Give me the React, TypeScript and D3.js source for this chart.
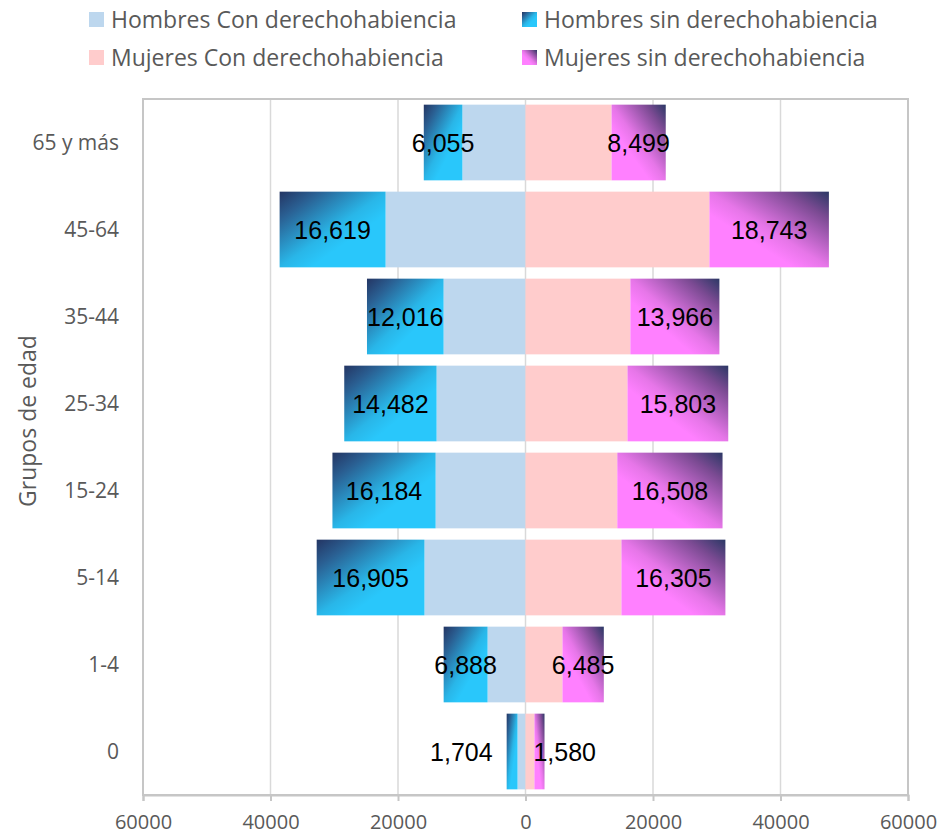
import * as React from "react";
import * as d3 from "d3";

const categories = ["65 y más", "45-64", "35-44", "25-34", "15-24", "5-14", "1-4", "0"];
const hombresCon = [9900, 21950, 12850, 13950, 14100, 15850, 5950, 1250];
const hombresSin = [6055, 16619, 12016, 14482, 16184, 16905, 6888, 1704];
const mujeresCon = [13500, 28850, 16450, 16000, 14400, 15050, 5800, 1400];
const mujeresSin = [8499, 18743, 13966, 15803, 16508, 16305, 6485, 1580];
const xTicks = [-60000, -40000, -20000, 0, 20000, 40000, 60000];
const legendItems = [
  { label: "Hombres Con derechohabiencia", fill: "#BDD7EE" },
  { label: "Hombres sin derechohabiencia", fill: "url(#gradH)" },
  { label: "Mujeres Con derechohabiencia", fill: "#FFCCCC" },
  { label: "Mujeres sin derechohabiencia", fill: "url(#gradM)" },
];

const W = 940,
  H = 838;

export default function App() {
  const ref = React.useRef<SVGSVGElement>(null);

  React.useEffect(() => {
    if (!ref.current) return;
    document.body.style.margin = "0";
    const svg = d3.select(ref.current);
    svg.selectAll("*").remove();

    const left = 143,
      right = 908,
      top = 99,
      bottom = 795;

    const x = d3.scaleLinear().domain([-60000, 60000]).range([left, right]);
    const y = d3
      .scaleBand<string>()
      .domain(categories)
      .range([top, bottom])
      .paddingInner(0.13)
      .paddingOuter(0.065);

    const defs = svg.append("defs");
    const gH = defs
      .append("linearGradient")
      .attr("id", "gradH")
      .attr("x1", 0)
      .attr("y1", 0)
      .attr("x2", 1)
      .attr("y2", 1);
    gH.append("stop").attr("offset", 0).attr("stop-color", "#243563");
    gH.append("stop").attr("offset", 0.18).attr("stop-color", "#2A5F92");
    gH.append("stop").attr("offset", 0.5).attr("stop-color", "#29B6E8");
    gH.append("stop").attr("offset", 0.65).attr("stop-color", "#29C7FB");
    gH.append("stop").attr("offset", 1).attr("stop-color", "#29C7FB");

    const gM = defs
      .append("linearGradient")
      .attr("id", "gradM")
      .attr("x1", 1)
      .attr("y1", 0)
      .attr("x2", 0)
      .attr("y2", 1);
    gM.append("stop").attr("offset", 0).attr("stop-color", "#2B3865");
    gM.append("stop").attr("offset", 0.18).attr("stop-color", "#7A4A92");
    gM.append("stop").attr("offset", 0.5).attr("stop-color", "#E676E8");
    gM.append("stop").attr("offset", 0.65).attr("stop-color", "#FF80FF");
    gM.append("stop").attr("offset", 1).attr("stop-color", "#FF80FF");

    // grid
    svg
      .append("g")
      .selectAll("line")
      .data(xTicks)
      .enter()
      .append("line")
      .attr("x1", d => x(d))
      .attr("x2", d => x(d))
      .attr("y1", top)
      .attr("y2", bottom)
      .attr("stroke", "#D9D9D9")
      .attr("stroke-width", 1.5);

    // plot border
    svg
      .append("rect")
      .attr("x", left)
      .attr("y", top)
      .attr("width", right - left)
      .attr("height", bottom - top)
      .attr("fill", "none")
      .attr("stroke", "#C6C6C6")
      .attr("stroke-width", 2);

    const bars = svg.append("g");
    categories.forEach((c, i) => {
      const y0 = y(c)!;
      const bw = y.bandwidth();
      const segs = [
        { a: -hombresCon[i], b: 0, fill: "#BDD7EE" },
        { a: -hombresCon[i] - hombresSin[i], b: -hombresCon[i], fill: "url(#gradH)" },
        { a: 0, b: mujeresCon[i], fill: "#FFCCCC" },
        { a: mujeresCon[i], b: mujeresCon[i] + mujeresSin[i], fill: "url(#gradM)" },
      ];
      bars
        .selectAll(null)
        .data(segs)
        .enter()
        .append("rect")
        .attr("x", d => x(d.a))
        .attr("y", y0)
        .attr("width", d => x(d.b) - x(d.a))
        .attr("height", bw)
        .attr("fill", d => d.fill);
    });

    // labels
    const fmt = d3.format(",");
    const labels = svg
      .append("g")
      .attr("font-family", "'Liberation Sans', Arial, sans-serif")
      .attr("font-size", 25)
      .attr("fill", "#000");
    categories.forEach((c, i) => {
      const cy = y(c)! + y.bandwidth() / 2;
      const hx0 = x(-hombresCon[i] - hombresSin[i]);
      const hx1 = x(-hombresCon[i]);
      const narrowH = hx1 - hx0 < 20;
      labels
        .append("text")
        .attr("x", narrowH ? hx0 - 14 : (hx0 + hx1) / 2)
        .attr("y", cy)
        .attr("dy", "0.36em")
        .attr("text-anchor", narrowH ? "end" : "middle")
        .text(fmt(hombresSin[i]));
      const mx0 = x(mujeresCon[i]);
      const mx1 = x(mujeresCon[i] + mujeresSin[i]);
      const narrowM = mx1 - mx0 < 20;
      labels
        .append("text")
        .attr("x", narrowM ? mx0 - 1 : (mx0 + mx1) / 2)
        .attr("y", cy)
        .attr("dy", "0.36em")
        .attr("text-anchor", narrowM ? "start" : "middle")
        .text(fmt(mujeresSin[i]));
    });

    // x axis
    const xAxis = svg
      .append("g")
      .attr("transform", `translate(0,${bottom})`)
      .call(
        d3
          .axisBottom(x)
          .tickValues(xTicks)
          .tickFormat(d => String(Math.abs(+d)))
          .tickSize(6)
          .tickPadding(14)
      );
    xAxis.select(".domain").attr("stroke", "#C6C6C6").attr("stroke-width", 2);
    xAxis.selectAll(".tick line").attr("stroke", "#C6C6C6").attr("stroke-width", 2);
    xAxis
      .selectAll(".tick text")
      .attr("fill", "#595959")
      .attr("font-size", 20)
      .attr("font-family", "'Open Sans', sans-serif");

    // y axis labels
    svg
      .append("g")
      .selectAll("text")
      .data(categories)
      .enter()
      .append("text")
      .attr("x", 119)
      .attr("y", d => y(d)! + y.bandwidth() / 2)
      .attr("dy", "0.36em")
      .attr("text-anchor", "end")
      .attr("fill", "#595959")
      .attr("font-size", 21)
      .attr("font-family", "'Open Sans', sans-serif")
      .text(d => d);

    svg
      .append("text")
      .attr("transform", `translate(36,421) rotate(-90)`)
      .attr("text-anchor", "middle")
      .attr("fill", "#595959")
      .attr("font-size", 23)
      .attr("font-family", "'Open Sans', sans-serif")
      .text("Grupos de edad");

    // legend
    const legend = svg.append("g");
    const lg = legend
      .selectAll("g")
      .data(legendItems)
      .enter()
      .append("g")
      .attr("transform", (d, i) => `translate(${i % 2 === 0 ? 89 : 522},${i < 2 ? 19.5 : 57.5})`);
    lg.append("rect")
      .attr("x", 0)
      .attr("y", -7.5)
      .attr("width", 15)
      .attr("height", 15)
      .attr("fill", d => d.fill);
    lg.append("text")
      .attr("x", 22)
      .attr("y", 0)
      .attr("dy", "0.36em")
      .attr("fill", "#595959")
      .attr("font-size", 23)
      .attr("font-family", "'Open Sans', sans-serif")
      .text(d => d.label);
  }, []);

  return (
    <svg
      ref={ref}
      width={W}
      height={H}
      style={{ display: "block", position: "absolute", left: 0, top: 0, background: "#fff" }}
    />
  );
}
